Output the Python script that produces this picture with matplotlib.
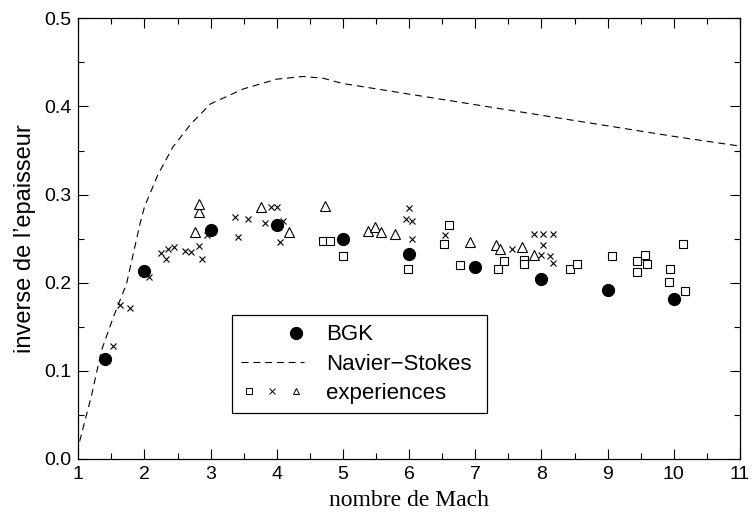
import numpy as np
import matplotlib
matplotlib.use("Agg")
import matplotlib.pyplot as plt
from matplotlib.lines import Line2D
from matplotlib.legend_handler import HandlerTuple

plt.rcParams['font.family'] = ['Liberation Sans', 'DejaVu Sans']
plt.rcParams['lines.scale_dashes'] = False

# BGK simulation
mach_bgk = [1.4, 2.0, 3.0, 4.0, 5.0, 6.0, 7.0, 8.0, 9.0, 10.0]
inv_bgk = [0.113, 0.213, 0.260, 0.265, 0.250, 0.233, 0.218, 0.204, 0.192, 0.181]

# Navier-Stokes
mach_ns = [1.02, 1.2, 1.35, 1.53, 1.73, 1.93, 2.0, 2.2, 2.43, 2.7, 3.0, 3.5,
           4.0, 4.4, 4.7, 5.0, 6.0, 7.0, 8.0, 9.0, 10.0, 11.0]
inv_ns = [0.020, 0.072, 0.123, 0.161, 0.199, 0.266, 0.286, 0.322, 0.354, 0.380,
          0.403, 0.420, 0.431, 0.434, 0.432, 0.426, 0.414, 0.402, 0.390, 0.378,
          0.366, 0.355]

# experiences (trois series)
mach_sq = [4.70, 4.81, 5.0, 5.98, 6.52, 6.60, 6.77, 7.35, 7.43, 7.74, 7.74,
           8.43, 8.53, 9.07, 9.45, 9.45, 9.57, 9.60, 9.92, 9.94, 10.14, 10.17]
inv_sq = [0.247, 0.247, 0.230, 0.216, 0.244, 0.266, 0.220, 0.216, 0.225, 0.226,
          0.221, 0.215, 0.221, 0.230, 0.225, 0.212, 0.232, 0.221, 0.201, 0.215,
          0.244, 0.191]

mach_x = [1.53, 1.63, 1.78, 2.07, 2.25, 2.33, 2.35, 2.45, 2.61, 2.70, 2.83, 2.87,
          2.95, 3.37, 3.42, 3.57, 3.82, 3.91, 4.0, 4.09, 4.05, 5.95, 6.0, 6.04,
          6.04, 6.54, 7.55, 7.89, 8.02, 8.18, 8.02, 7.99, 8.13, 8.18]
inv_x = [0.128, 0.175, 0.171, 0.207, 0.234, 0.227, 0.238, 0.240, 0.236, 0.235,
         0.242, 0.227, 0.254, 0.274, 0.252, 0.272, 0.268, 0.286, 0.286, 0.270,
         0.246, 0.272, 0.285, 0.270, 0.250, 0.254, 0.238, 0.255, 0.255, 0.255,
         0.243, 0.232, 0.230, 0.222]

mach_tri = [2.77, 2.82, 2.83, 3.76, 4.18, 4.73, 5.38, 5.48, 5.57, 5.79, 6.92,
            7.32, 7.37, 7.71, 7.88]
inv_tri = [0.258, 0.280, 0.289, 0.286, 0.258, 0.287, 0.259, 0.263, 0.257, 0.255,
           0.246, 0.243, 0.238, 0.240, 0.232]

fig = plt.figure(figsize=(7.52, 5.13), dpi=100)
ax = fig.add_axes([0.1041, 0.1053, 0.8799, 0.859])

ax.plot(mach_ns, inv_ns, color='black', lw=0.8, ls=(0, (5, 3.5)))
ax.plot(mach_sq, inv_sq, ls='none', marker='s', ms=5.5, mfc='white',
        mec='black', mew=0.8)
ax.plot(mach_x, inv_x, ls='none', marker='x', ms=4.8, color='black', mew=0.8)
ax.plot(mach_tri, inv_tri, ls='none', marker='^', ms=6.5, mfc='white',
        mec='black', mew=0.8)
ax.plot(mach_bgk, inv_bgk, ls='none', marker='o', ms=8.5, color='black')

ax.set_xlim(1, 11)
ax.set_ylim(0, 0.5)
ax.set_xticks(np.arange(1, 12, 1))
ax.set_xticks(np.arange(1.5, 11, 1), minor=True)
ax.set_yticks(np.arange(0, 0.51, 0.1))
ax.set_yticks(np.arange(0.05, 0.5, 0.1), minor=True)
ax.set_yticklabels(['0.0', '0.1', '0.2', '0.3', '0.4', '0.5'])
ax.tick_params(which='both', direction='in', top=True, right=True,
               labelsize=14, width=0.8)
ax.tick_params(which='major', length=7, pad=5)
ax.tick_params(which='minor', length=4)
for s in ax.spines.values():
    s.set_linewidth(0.9)

ax.set_xlabel('nombre de Mach', family='Liberation Serif', fontsize=17,
              labelpad=5)
ax.set_ylabel("inverse de l\u2019epaisseur", fontsize=17, labelpad=6)

# legende
blank = Line2D([], [], ls='none')
h_bgk = (blank, blank, Line2D([], [], ls='none', marker='o', ms=8.5,
                              color='black'))
h_ns = Line2D([], [], color='black', lw=0.8, ls=(0, (5, 3.5)))
h_exp = (Line2D([], [], ls='none', marker='s', ms=4, mfc='white',
                mec='black', mew=0.7),
         Line2D([], [], ls='none', marker='x', ms=5, color='black', mew=0.7),
         Line2D([], [], ls='none', marker='^', ms=5, mfc='white',
                mec='black', mew=0.7))
leg = ax.legend([h_bgk, h_ns, h_exp], ['BGK', 'Navier\u2212Stokes', 'experiences'],
                handler_map={tuple: HandlerTuple(ndivide=None, pad=0.3)},
                loc='lower left', bbox_to_anchor=(0.232, 0.104, 0.386, 0.225),
                mode='expand', borderaxespad=0, fontsize=16, frameon=True,
                fancybox=False, framealpha=1, edgecolor='black',
                borderpad=0.4, handlelength=2.85, handletextpad=1.0,
                labelspacing=0.38)
leg.get_frame().set_linewidth(0.9)

fig.savefig('out.png', dpi=100)
